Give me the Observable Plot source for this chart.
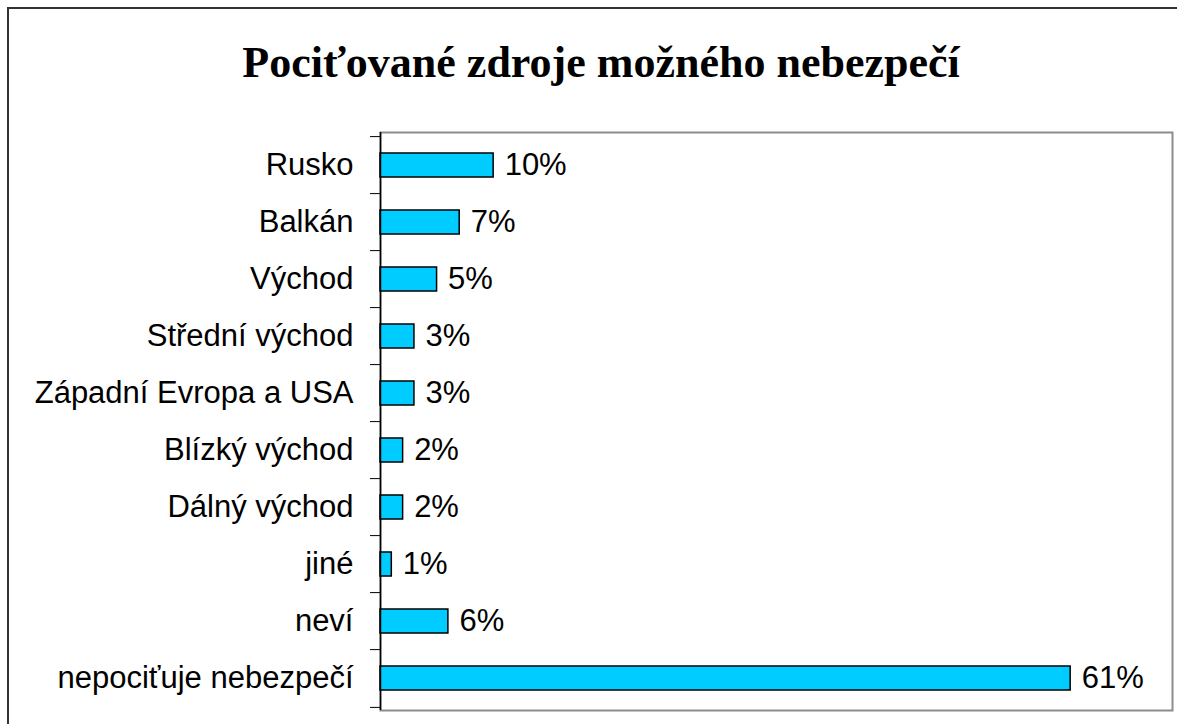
<!DOCTYPE html>
<html>
<head>
<meta charset="utf-8">
<script src="https://cdn.jsdelivr.net/npm/d3@7"></script>
<script src="https://cdn.jsdelivr.net/npm/@observablehq/plot@0.6"></script>
<style>
  html, body { margin: 0; padding: 0; background: #fff; overflow: hidden; }
  #page { position: relative; width: 1177px; height: 724px; }
  #border { position: absolute; left: 7px; top: 7px; width: 1300px; height: 900px; border: 2px solid #333; pointer-events: none; z-index: 3; }
  #title { position: absolute; left: 0; top: 36px; width: 1202px; text-align: center;
    font-family: "Liberation Serif", "Times New Roman", serif; font-weight: bold; font-size: 44px; line-height: 54px; color: #000; }
  #chart { position: absolute; left: 0; top: 120px; }
</style>
</head>
<body>
<div id="page">
  <div id="border"></div>
  <div id="title">Pociťované zdroje možného nebezpečí</div>
  <div id="chart"></div>
</div>
<script>
const categories = ["Rusko", "Balkán", "Východ", "Střední východ", "Západní Evropa a USA", "Blízký východ", "Dálný východ", "jiné", "neví", "nepociťuje nebezpečí"];
const values = [10, 7, 5, 3, 3, 2, 2, 1, 6, 61];
const xDomain = [0, 70];

const data = categories.map((c, i) => ({category: c, value: values[i]}));

const width = 1177, height = 604;
const marginTop = 12, marginBottom = 14, marginLeft = 380, marginRight = 5;
const step = (height - marginTop - marginBottom) / categories.length;

const chart = Plot.plot({
  width, height, marginTop, marginBottom, marginLeft, marginRight,
  style: {background: "transparent", overflow: "visible", maxWidth: "none", fontFamily: "'Liberation Sans', Arial, sans-serif", fontSize: "31px", color: "#000"},
  x: {domain: xDomain, axis: null},
  y: {domain: categories, paddingInner: 0.585, paddingOuter: 0.2925, align: 0.5, label: null},
  marks: [
    Plot.frame({stroke: "#8c8c8c", strokeWidth: 2}),
    Plot.barX(data, {y: "category", x1: 0, x2: "value", fill: "#00ccff", stroke: "#000", strokeWidth: 1.5}),
    Plot.text(data, {y: "category", x: "value", text: d => d.value + "%", textAnchor: "start", dx: 11, fontSize: 31, fill: "#000"}),
    Plot.axisY({tickSize: 0, tickPadding: 27, fontSize: 31, label: null, fill: "#000"}),
    Plot.axisY({tickSize: 10, tickFormat: () => "", label: null, dy: -step / 2, stroke: "#000"}),
    Plot.axisY([categories[categories.length - 1]], {tickSize: 10, tickFormat: () => "", label: null, dy: step / 2, stroke: "#000"}),
    Plot.ruleX([0], {stroke: "#000", strokeWidth: 1.5})
  ]
});
document.getElementById("chart").appendChild(chart);
</script>
</body>
</html>
